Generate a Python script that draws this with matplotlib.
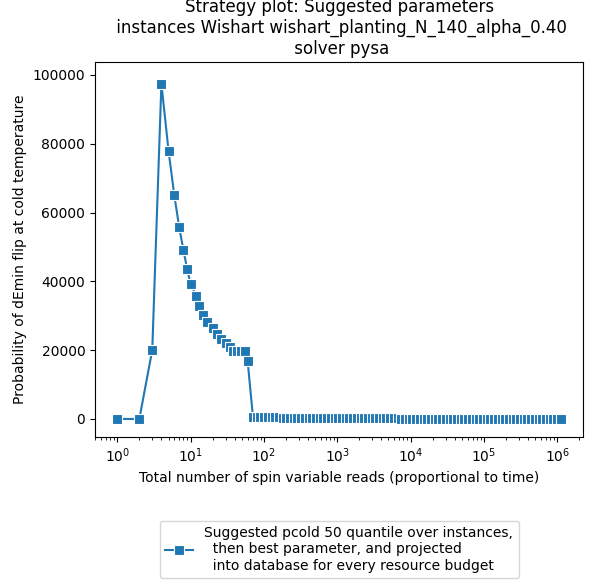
import numpy as np
import matplotlib
matplotlib.use('Agg')
import matplotlib.pyplot as plt

# resource budgets (reads)
early_reads = [1, 2, 3, 4, 5, 6, 7, 8, 9, 10, 12, 13, 15, 17, 20, 23, 26, 30,
               34, 38, 43, 48, 55, 60]
early_values = [0, 0, 20000, 97500, 78000, 65000, 55700, 49000, 43500, 39200,
                35700, 32800, 30100, 28100, 26500, 24700, 23200, 22000, 20800,
                19800, 19700, 19700, 19700, 16800]
# dense part of the budget grid, 20 points per decade
late_reads = np.round(np.logspace(1.85, 6.05, 84)).astype(int)
late_values = [500, 500, 480, 470, 460, 450, 440, 430, 420, 400, 380, 360,
               340, 320, 300, 290, 280, 270, 260, 250, 240, 230, 220, 210,
               200, 200, 190, 190, 180, 180, 170, 170, 160, 160, 150, 150,
               140, 140, 130, 130, 120, 120, 110, 110, 100, 100, 100, 100,
               90, 90, 90, 90, 80, 80, 80, 80, 70, 70, 70, 70, 60, 60, 60,
               60, 50, 50, 50, 50, 40, 40, 40, 40, 30, 30, 30, 30, 20, 20,
               20, 20, 10, 10, 10, 10]

reads = list(early_reads) + list(late_reads)
values = early_values + late_values

fig = plt.figure(figsize=(5.98, 5.84), dpi=100)
ax = fig.add_axes([0.159, 0.252, 0.816, 0.642])

ax.plot(reads, values, color='#1f77b4', marker='s', markersize=7,
        markeredgecolor='white', markeredgewidth=0.8, linewidth=1.5,
        label='Suggested pcold 50 quantile over instances,\n'
              '  then best parameter, and projected\n'
              '  into database for every resource budget')
ax.set_xscale('log')
ax.set_ylim(-5200, 103800)

ax.set_xlabel('Total number of spin variable reads (proportional to time)')
ax.set_ylabel('Probability of dEmin flip at cold temperature')
ax.set_title('Strategy plot: Suggested parameters\n'
             ' instances Wishart wishart_planting_N_140_alpha_0.40\n'
             ' solver pysa')

ax.legend(loc='upper center', bbox_to_anchor=(0.5, -0.205), ncol=1)

fig.savefig('out.png', dpi=100)
